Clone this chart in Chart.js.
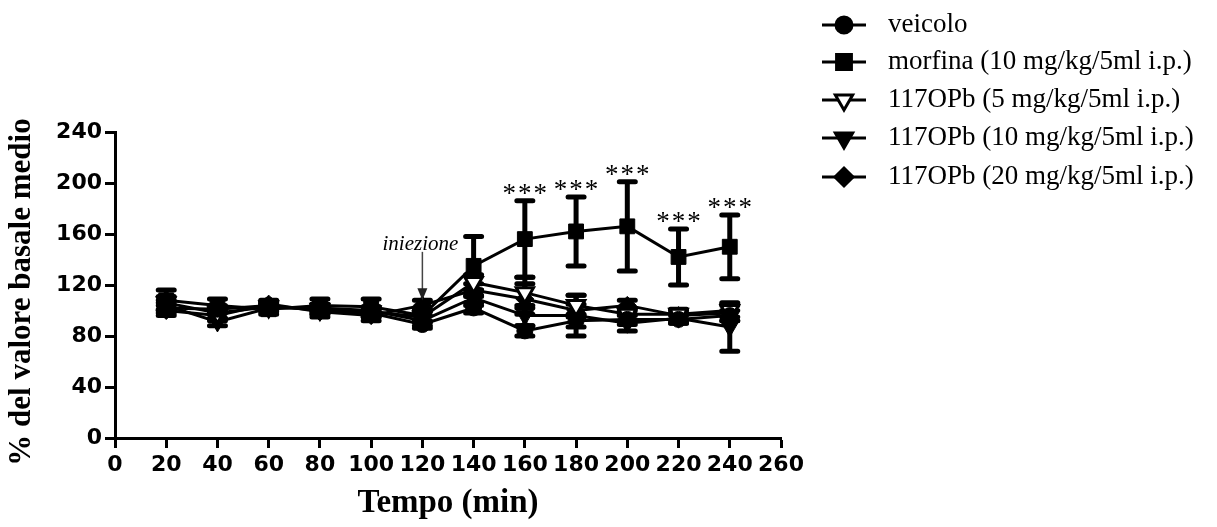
<!DOCTYPE html>
<html>
<head>
<meta charset="utf-8">
<script src="https://cdn.jsdelivr.net/npm/chart.js@4/dist/chart.umd.min.js"></script>
<style>
  html, body { margin: 0; padding: 0; background: #fff; }
  #chart { display: block; }
</style>
</head>
<body>
<canvas id="chart" width="1217" height="527"></canvas>
<script>
// time points (min)
var times = [20, 40, 60, 80, 100, 120, 140, 160, 180, 200, 220, 240];

// mean % of basal value
var veicolo = [102, 101, 104, 100, 98, 89, 102, 84, 92, 93, 93, 96];
var veicoloErr = [4, 3, 3, 3, 3, 3, 4, 4, 5, 4, 3, 4];

var morfina = [108, 104, 101, 104, 103, 96, 135, 156, 162, 166, 142, 150];
var morfinaErr = [8, 5, 4, 5, 6, 5, 23, 30, 27, 35, 22, 25];

var opb5 = [106, 98, 103, 101, 99, 95, 122, 114, 104, 97, 97, 100];
var opb5Err = [5, 4, 3, 4, 4, 4, 6, 12, 8, 5, 4, 5];

var opb10 = [104, 91, 102, 102, 100, 92, 110, 96, 96, 90, 94, 87];
var opb10Err = [4, 3, 3, 3, 3, 4, 6, 8, 16, 6, 4, 19];

var opb20 = [100, 96, 105, 99, 96, 104, 116, 109, 100, 104, 96, 98];
var opb20Err = [4, 4, 3, 4, 4, 4, 5, 12, 5, 4, 4, 6];

// significance marks over morfina
var signif = ['', '', '', '', '', '', '', '***', '***', '***', '***', '***'];

var xTicks = [0, 20, 40, 60, 80, 100, 120, 140, 160, 180, 200, 220, 240, 260];
var yTicks = [0, 40, 80, 120, 160, 200, 240];

var labels = ['veicolo', 'morfina (10 mg/kg/5ml i.p.)', '117OPb (5 mg/kg/5ml i.p.)',
  '117OPb (10 mg/kg/5ml i.p.)', '117OPb (20 mg/kg/5ml i.p.)'];

var yTitle = '% del valore basale medio';

function pts(vals) {
  return times.map(function (t, i) { return { x: t, y: vals[i] }; });
}

function ds(label, vals, err, style, radius, rotation, fill, bw) {
  return {
    label: label,
    data: pts(vals),
    err: err,
    borderColor: '#000',
    borderWidth: 3,
    pointStyle: style,
    pointRadius: radius,
    pointRotation: rotation,
    pointBackgroundColor: fill,
    pointBorderColor: '#000',
    pointBorderWidth: bw,
    tension: 0,
    fill: false
  };
}

var datasets = [
  ds(labels[0], veicolo, veicoloErr, 'circle', 8, 0, '#000', 1),
  ds(labels[1], morfina, morfinaErr, 'rect', 10.5, 0, '#000', 1),
  ds(labels[2], opb5, opb5Err, 'triangle', 10, 180, '#fff', 3),
  ds(labels[3], opb10, opb10Err, 'triangle', 10, 180, '#000', 1),
  ds(labels[4], opb20, opb20Err, 'rectRot', 9, 0, '#000', 1)
];

var errorBars = {
  id: 'errorBars',
  beforeDatasetsDraw: function (chart) {
    var ctx = chart.ctx;
    var ys = chart.scales.y;
    ctx.save();
    ctx.strokeStyle = '#000';
    ctx.lineWidth = 5;
    ctx.lineCap = 'round';
    chart.data.datasets.forEach(function (d, i) {
      var meta = chart.getDatasetMeta(i);
      meta.data.forEach(function (p, j) {
        var v = d.data[j].y, e = d.err[j];
        var top = ys.getPixelForValue(v + e);
        var bot = ys.getPixelForValue(v - e);
        ctx.beginPath();
        ctx.moveTo(p.x, top); ctx.lineTo(p.x, bot);
        ctx.moveTo(p.x - 8, top); ctx.lineTo(p.x + 8, top);
        ctx.moveTo(p.x - 8, bot); ctx.lineTo(p.x + 8, bot);
        ctx.stroke();
      });
    });
    ctx.restore();
  }
};

var notes = {
  id: 'notes',
  afterDatasetsDraw: function (chart) {
    var ctx = chart.ctx;
    var xs = chart.scales.x, ys = chart.scales.y;
    ctx.save();
    // stars
    ctx.fillStyle = '#000';
    ctx.font = '27px "Liberation Serif", "Times New Roman", serif';
    ctx.textAlign = 'center';
    ctx.textBaseline = 'alphabetic';
    ctx.letterSpacing = '2px';
    signif.forEach(function (s, i) {
      if (!s) return;
      var x = xs.getPixelForValue(times[i]) + 1;
      var y = ys.getPixelForValue(morfina[i] + morfinaErr[i]) + 1;
      ctx.fillText(s, x, y);
    });
    ctx.letterSpacing = '0px';
    // injection arrow
    var ax = xs.getPixelForValue(120);
    var a0 = ys.getPixelForValue(146), a1 = ys.getPixelForValue(108);
    ctx.strokeStyle = '#444';
    ctx.fillStyle = '#222';
    ctx.lineWidth = 1.5;
    ctx.beginPath(); ctx.moveTo(ax, a0); ctx.lineTo(ax, a1 - 10); ctx.stroke();
    ctx.beginPath(); ctx.moveTo(ax - 5, a1 - 12); ctx.lineTo(ax + 5, a1 - 12); ctx.lineTo(ax, a1); ctx.closePath(); ctx.fill();
    ctx.fillStyle = '#000';
    ctx.font = 'italic 21px "Liberation Serif", "Times New Roman", serif';
    ctx.fillText('iniezione', ax - 2, a0 - 2);
    ctx.restore();
  },
  afterDraw: function (chart) {
    var ctx = chart.ctx;
    ctx.save();
    // y axis title
    ctx.translate(22, 292);
    ctx.rotate(-Math.PI / 2);
    ctx.fillStyle = '#000';
    ctx.font = 'bold 31px "Liberation Serif", "Times New Roman", serif';
    ctx.textAlign = 'center';
    ctx.textBaseline = 'middle';
    ctx.fillText(yTitle, 0, 0);
    ctx.restore();

    // legend on the right
    var rows = [25, 62, 100, 138, 177];
    ctx.save();
    chart.data.datasets.forEach(function (d, i) {
      var y = rows[i];
      ctx.strokeStyle = '#000';
      ctx.lineWidth = 3;
      ctx.beginPath(); ctx.moveTo(822, y); ctx.lineTo(866, y); ctx.stroke();
      ctx.fillStyle = d.pointBackgroundColor;
      Chart.helpers.drawPoint(ctx, {
        pointStyle: d.pointStyle,
        radius: d.pointRadius,
        rotation: d.pointRotation,
        borderWidth: d.pointBorderWidth
      }, 844, y);
      ctx.fillStyle = '#000';
      ctx.font = '27px "Liberation Serif", "Times New Roman", serif';
      ctx.textAlign = 'left';
      ctx.textBaseline = 'middle';
      ctx.fillText(d.label, 888, y);
    });
    ctx.restore();
  }
};

var axisCommon = {
  border: { display: true, color: '#000', width: 3 },
  grid: { display: true, drawOnChartArea: false, drawTicks: true, tickLength: 10, tickWidth: 3, tickColor: '#000' }
};

new Chart(document.getElementById('chart'), {
  type: 'line',
  data: { datasets: datasets },
  options: {
    responsive: false,
    animation: false,
    devicePixelRatio: 1,
    layout: { padding: { left: 0, right: 436, top: 132, bottom: 0 } },
    plugins: { legend: { display: false }, tooltip: { enabled: false } },
    scales: {
      x: Object.assign({
        type: 'linear', min: 0, max: 260,
        afterBuildTicks: function (s) { s.ticks = xTicks.map(function (v) { return { value: v }; }); },
        afterFit: function (s) { s.height = 89; s.paddingLeft = 0; s.paddingRight = 0; },
        ticks: { color: '#000', padding: 4, maxRotation: 0, autoSkip: false,
          font: { family: '"DejaVu Sans", sans-serif', weight: 'bold', size: 22 } },
        title: { display: true, text: 'Tempo (min)', color: '#000', padding: { top: 2, bottom: 4 },
          font: { family: '"Liberation Serif", "Times New Roman", serif', weight: 'bold', size: 33 } }
      }, axisCommon),
      y: Object.assign({
        type: 'linear', min: 0, max: 240,
        afterBuildTicks: function (s) { s.ticks = yTicks.map(function (v) { return { value: v }; }); },
        afterFit: function (s) { s.width = 115; s.paddingTop = 0; s.paddingBottom = 0; },
        ticks: { color: '#000', padding: 3,
          font: { family: '"DejaVu Sans", sans-serif', weight: 'bold', size: 22 } },
        title: { display: false }
      }, axisCommon)
    }
  },
  plugins: [errorBars, notes]
});
</script>
</body>
</html>
